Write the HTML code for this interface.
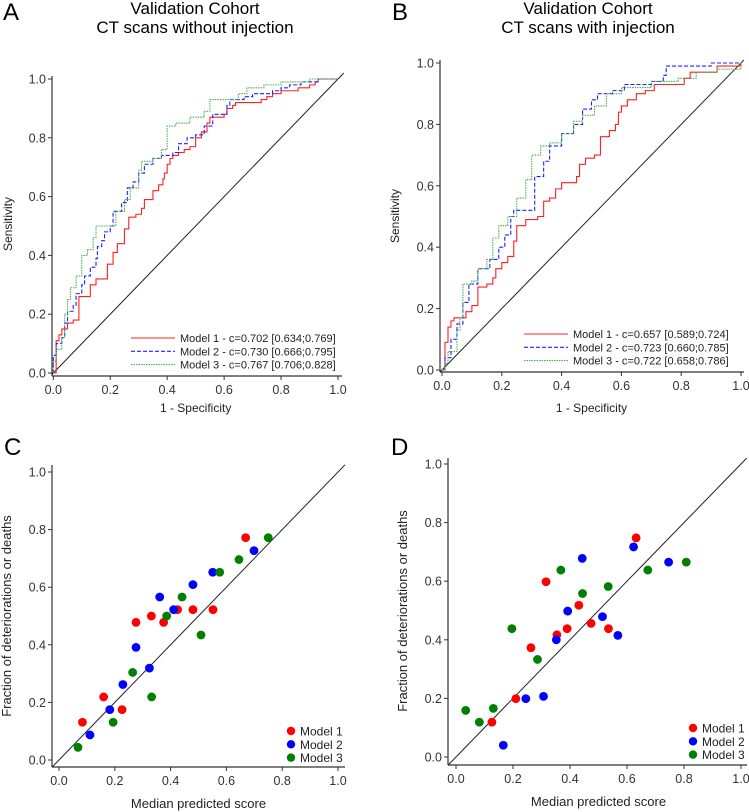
<!DOCTYPE html>
<html><head><meta charset="utf-8"><style>
body{margin:0;background:#fff}
svg{display:block;font-family:"Liberation Sans",sans-serif}
</style></head><body>
<svg id="fig" width="749" height="812" viewBox="0 0 749 812">
<text x="3" y="20" font-size="24">A</text>
<text x="195" y="14" font-size="17" text-anchor="middle">Validation Cohort</text>
<text x="195" y="33" font-size="17" text-anchor="middle">CT scans without injection</text>
<text x="392" y="20" font-size="24">B</text>
<text x="588" y="14" font-size="17" text-anchor="middle">Validation Cohort</text>
<text x="588" y="33" font-size="17" text-anchor="middle">CT scans with injection</text>
<text x="4" y="455" font-size="24">C</text>
<text x="391" y="455" font-size="24">D</text>
</svg>
<script>
const ticks=[0,0.2,0.4,0.6,0.8,1.0];
const tickLabels=["0.0","0.2","0.4","0.6","0.8","1.0"];
const rocA_m1=[[0,0],[0.01,0],[0.01,0.11],[0.02,0.13],[0.03,0.15],[0.05,0.17],[0.07,0.18],[0.09,0.2],[0.09,0.26],[0.125,0.26],[0.13,0.3],[0.15,0.32],[0.18,0.32],[0.19,0.37],[0.21,0.41],[0.225,0.44],[0.25,0.44],[0.25,0.49],[0.265,0.49],[0.265,0.53],[0.29,0.54],[0.31,0.56],[0.32,0.59],[0.34,0.59],[0.35,0.62],[0.37,0.64],[0.385,0.66],[0.39,0.68],[0.4,0.71],[0.41,0.73],[0.42,0.74],[0.44,0.75],[0.46,0.76],[0.48,0.77],[0.5,0.8],[0.52,0.82],[0.54,0.85],[0.55,0.87],[0.6,0.88],[0.61,0.9],[0.63,0.91],[0.64,0.92],[0.72,0.92],[0.73,0.93],[0.75,0.94],[0.77,0.95],[0.8,0.96],[0.84,0.96],[0.86,0.97],[0.9,0.98],[0.92,0.99],[0.93,1],[1,1]];
const rocA_m2=[[0,0],[0,0.06],[0.01,0.1],[0.03,0.12],[0.04,0.17],[0.05,0.21],[0.07,0.23],[0.08,0.27],[0.1,0.3],[0.11,0.33],[0.13,0.36],[0.15,0.39],[0.155,0.43],[0.17,0.45],[0.18,0.48],[0.2,0.5],[0.21,0.55],[0.24,0.58],[0.26,0.63],[0.28,0.65],[0.3,0.68],[0.32,0.71],[0.35,0.73],[0.38,0.74],[0.42,0.75],[0.44,0.78],[0.47,0.8],[0.5,0.81],[0.53,0.84],[0.56,0.88],[0.59,0.88],[0.61,0.91],[0.62,0.93],[0.67,0.94],[0.7,0.95],[0.77,0.96],[0.8,0.97],[0.83,0.98],[0.87,0.99],[0.93,1],[1,1]];
const rocA_m3=[[0,0],[0,0.04],[0.01,0.08],[0.03,0.12],[0.04,0.2],[0.05,0.25],[0.06,0.29],[0.08,0.33],[0.1,0.4],[0.12,0.42],[0.14,0.46],[0.15,0.5],[0.2,0.5],[0.22,0.55],[0.25,0.59],[0.27,0.63],[0.3,0.69],[0.31,0.72],[0.35,0.73],[0.38,0.76],[0.4,0.77],[0.4,0.84],[0.43,0.85],[0.48,0.87],[0.53,0.89],[0.55,0.93],[0.6,0.93],[0.65,0.95],[0.68,0.97],[0.74,0.98],[0.8,0.99],[0.9,1],[1,1]];
const rocB_m1=[[0,0],[0.01,0.03],[0.01,0.09],[0.02,0.14],[0.03,0.16],[0.04,0.17],[0.07,0.17],[0.08,0.19],[0.1,0.21],[0.12,0.23],[0.12,0.27],[0.15,0.28],[0.17,0.3],[0.18,0.33],[0.2,0.35],[0.22,0.37],[0.24,0.37],[0.24,0.42],[0.25,0.47],[0.28,0.49],[0.32,0.5],[0.34,0.55],[0.36,0.56],[0.38,0.59],[0.4,0.61],[0.45,0.63],[0.46,0.67],[0.48,0.69],[0.51,0.7],[0.53,0.72],[0.53,0.76],[0.56,0.78],[0.58,0.8],[0.59,0.84],[0.6,0.86],[0.62,0.88],[0.65,0.9],[0.68,0.91],[0.71,0.93],[0.81,0.95],[0.83,0.97],[0.92,0.99],[1,1]];
const rocB_m2=[[0,0],[0.01,0.04],[0.03,0.1],[0.05,0.15],[0.07,0.22],[0.09,0.28],[0.12,0.33],[0.16,0.36],[0.19,0.4],[0.21,0.44],[0.23,0.5],[0.24,0.52],[0.3,0.52],[0.31,0.63],[0.34,0.68],[0.36,0.73],[0.4,0.77],[0.44,0.8],[0.47,0.85],[0.5,0.88],[0.52,0.9],[0.57,0.91],[0.61,0.93],[0.7,0.94],[0.74,0.96],[0.75,0.99],[0.9,1],[1,1]];
const rocB_m3=[[0,0],[0.01,0.02],[0.02,0.06],[0.04,0.06],[0.05,0.13],[0.06,0.17],[0.07,0.28],[0.1,0.29],[0.12,0.33],[0.15,0.36],[0.17,0.43],[0.19,0.47],[0.22,0.5],[0.25,0.56],[0.28,0.62],[0.3,0.7],[0.33,0.73],[0.36,0.74],[0.4,0.77],[0.44,0.81],[0.47,0.83],[0.51,0.86],[0.55,0.9],[0.6,0.92],[0.7,0.94],[0.79,0.95],[0.85,0.97],[0.92,0.98],[1,1]];
const calC_m1=[[0.084,0.131],[0.16,0.219],[0.226,0.175],[0.276,0.478],[0.331,0.5],[0.375,0.478],[0.425,0.522],[0.48,0.522],[0.552,0.522],[0.669,0.772]];
const calC_m2=[[0.111,0.087],[0.182,0.175],[0.229,0.262],[0.276,0.391],[0.324,0.319],[0.361,0.566],[0.411,0.522],[0.48,0.609],[0.551,0.652],[0.699,0.727]];
const calC_m3=[[0.068,0.044],[0.194,0.131],[0.264,0.304],[0.332,0.219],[0.386,0.5],[0.441,0.566],[0.509,0.434],[0.576,0.652],[0.645,0.696],[0.75,0.772]];
const calD_m1=[[0.126,0.119],[0.21,0.199],[0.263,0.373],[0.316,0.598],[0.354,0.417],[0.39,0.438],[0.431,0.518],[0.474,0.456],[0.535,0.438],[0.632,0.748]];
const calD_m2=[[0.166,0.04],[0.245,0.199],[0.307,0.207],[0.352,0.4],[0.392,0.498],[0.443,0.678],[0.514,0.479],[0.568,0.415],[0.623,0.717],[0.746,0.665]];
const calD_m3=[[0.034,0.159],[0.082,0.119],[0.131,0.166],[0.196,0.438],[0.286,0.333],[0.368,0.638],[0.444,0.558],[0.534,0.582],[0.673,0.638],[0.808,0.665]];
const legA=["Model 1 - c=0.702 [0.634;0.769]","Model 2 - c=0.730 [0.666;0.795]","Model 3 - c=0.767 [0.706;0.828]"];
const legB=["Model 1 - c=0.657 [0.589;0.724]","Model 2 - c=0.723 [0.660;0.785]","Model 3 - c=0.722 [0.658;0.786]"];
const legCal=["Model 1","Model 2","Model 3"];

const NS="http://www.w3.org/2000/svg";
const svg=document.getElementById('fig');
function mk(tag,attrs,parent){const e=document.createElementNS(NS,tag);for(const k in attrs)e.setAttribute(k,attrs[k]);(parent||svg).appendChild(e);return e;}

function panel(p){
  const g=mk('g',{});
  
  
  const sx=v=>p.x0+(p.x1-p.x0)*v, sy=v=>p.y0+(p.y1-p.y0)*v;
  const ya=mk('line',{x1:p.ax,y1:p.axTop,x2:p.ax,y2:p.ay,stroke:'#333','stroke-width':1.2},g);
  
  const xa=mk('line',{x1:p.ax,y1:p.ay,x2:p.axRight,y2:p.ay,stroke:'#333','stroke-width':1.2},g);
  
  ticks.forEach((t,i)=>{
    mk('line',{x1:p.ax-4,y1:sy(t),x2:p.ax,y2:sy(t),stroke:'#333'},g);
    const yl=mk('text',{x:p.ax-6,y:sy(t)+4.5,'font-size':12.5,'text-anchor':'end',fill:'#333'},g);
    yl.textContent=tickLabels[i];
    
    mk('line',{x1:sx(t),y1:p.ay,x2:sx(t),y2:p.ay+4,stroke:'#333'},g);
    const xl=mk('text',{x:sx(t),y:p.ay+18,'font-size':12.5,'text-anchor':'middle',fill:'#333'},g);
    xl.textContent=tickLabels[i];
    
  });
  const lo=Math.max((p.ax-p.x0)/(p.x1-p.x0),(p.ay-p.y0)/(p.y1-p.y0));
  const hi=p.diagHi;
  const d=mk('line',{x1:sx(lo),y1:sy(lo),x2:sx(hi),y2:sy(hi),stroke:'#222','stroke-width':1},g);
  
  const xt=mk('text',{x:(p.x0+p.x1)/2,y:p.xtY,'font-size':p.xtSize,'text-anchor':'middle',fill:'#222'},g);
  xt.textContent=p.xTitle;
  const yt=mk('text',{x:0,y:0,'font-size':p.ytSize,'text-anchor':'middle',fill:'#222',transform:`translate(${p.ytX},${p.ytY}) rotate(-90)`},g);
  yt.textContent=p.yTitle;
  return {g,sx,sy};
}
const styles=[{c:'#ff2020',dash:''},{c:'#2020ff',dash:'4,2'},{c:'#4caf50',dash:'1.5,1'}];
function roc(pn,series,leg,lx,ly){
  series.forEach((s,i)=>{
    let d='M'+pn.sx(s[0][0])+','+pn.sy(s[0][1]);
    for(let k=1;k<s.length;k++){d+=' H'+pn.sx(s[k][0])+' V'+pn.sy(s[k][1]);}
    const path=mk('path',{d:d,fill:'none',stroke:styles[i].c,'stroke-width':1.1,'stroke-dasharray':styles[i].dash},pn.g);
    
    const y=ly+i*13.3;
    const ll=mk('line',{x1:lx,y1:y,x2:lx+44,y2:y,stroke:styles[i].c,'stroke-width':1.1,'stroke-dasharray':styles[i].dash},pn.g);
    
    const t=mk('text',{x:lx+49,y:y+4,'font-size':11,fill:'#222'},pn.g);
    t.textContent=leg[i];
  });
}
const dotCols=['#ff0000','#0000ff','#008000'];
function cal(pn,series,lx,ly){
  series.forEach((s,i)=>{
    s.forEach(pt=>{
      const c=mk('circle',{cx:pn.sx(pt[0]),cy:pn.sy(pt[1]),r:4.4,fill:dotCols[i]},pn.g);
      
    });
    const y=ly+i*13.3;
    const lc=mk('circle',{cx:lx,cy:y,r:4.2,fill:dotCols[i]},pn.g);
    
    const t=mk('text',{x:lx+9,y:y+4.5,'font-size':12,fill:'#222'},pn.g);
    t.textContent=legCal[i];
  });
}
const pA=panel({name:'panel-a-roc',x0:53.3,x1:338,y0:373,y1:79,ax:52,ay:376,axTop:76,axRight:342,diagHi:1.02,xTitle:'1 - Specificity',xtY:412,xtSize:12,yTitle:'Sensitivity',ytX:12,ytY:224,ytSize:12});
roc(pA,[rocA_m1,rocA_m2,rocA_m3],legA,131,338);
const pB=panel({name:'panel-b-roc',x0:442,x1:741,y0:370,y1:63,ax:440,ay:372,axTop:60,axRight:744,diagHi:1.01,xTitle:'1 - Specificity',xtY:412,xtSize:12,yTitle:'Sensitivity',ytX:399,ytY:216,ytSize:12});
roc(pB,[rocB_m1,rocB_m2,rocB_m3],legB,524,334);
const pC=panel({name:'panel-c-calibration',x0:59,x1:338,y0:760,y1:472,ax:52,ay:767,axTop:465,axRight:345,diagHi:1.025,xTitle:'Median predicted score',xtY:808,xtSize:13,yTitle:'Fraction of deteriorations or deaths',ytX:11,ytY:616,ytSize:13});
cal(pC,[calC_m1,calC_m2,calC_m3],291,731);
const pD=panel({name:'panel-d-calibration',x0:456,x1:741,y0:757,y1:464,ax:448,ay:765,axTop:458,axRight:747,diagHi:1.02,xTitle:'Median predicted score',xtY:806,xtSize:13,yTitle:'Fraction of deteriorations or deaths',ytX:407,ytY:611,ytSize:13});
cal(pD,[calD_m1,calD_m2,calD_m3],693,728);
</script>
</body></html>
